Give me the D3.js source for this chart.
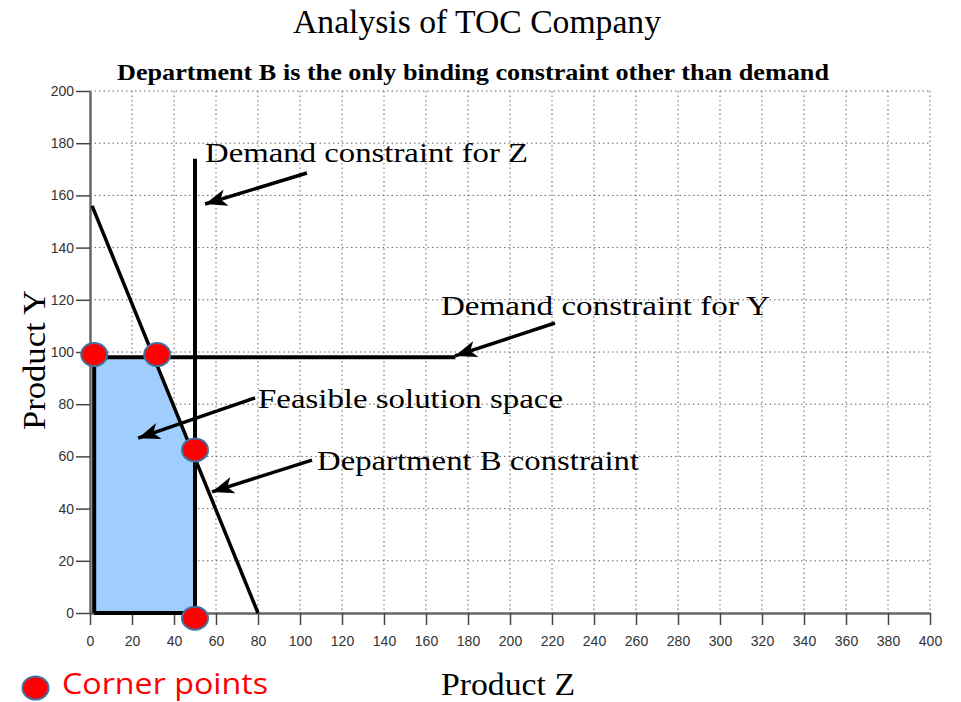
<!DOCTYPE html>
<html lang="en">
<head>
  <meta charset="UTF-8">
  <title>Analysis of TOC Company</title>
  <script src="https://d3js.org/d3.v7.min.js"></script>
  <style>
    body {
      margin: 0;
      background-color: white;
    }
    .serif {
      font-family: "Liberation Serif", "Times New Roman", serif;
    }
    .tick text {
      font-family: "Liberation Sans", Arial, sans-serif;
      font-size: 14px;
      fill: #333;
    }
    .tick line {
      stroke: #444;
      stroke-width: 1.5;
    }
    .domain {
      stroke: #666;
      stroke-width: 2.5;
    }
    .grid line {
      stroke: #666;
      stroke-width: 1;
      stroke-dasharray: 1.5,3;
    }
  </style>
</head>
<body>
  <svg width="961" height="702"></svg>
  <script>
    // ticks
    const xTicks = d3.range(0, 401, 20);
    const yTicks = d3.range(0, 201, 20);

    // constraint lines, in chart units (Product Z, Product Y)
    const demandZ = [[50, 0], [50, 174]];
    const demandY = [[2, 98], [174, 98]];
    const deptB = [[1, 156], [80, 0]];
    const leftEdge = [[2, 0], [2, 98]];
    const bottomEdge = [[2, 0], [50, 0]];

    // feasible region vertices
    const feasible = [[2, 0], [2, 98], [30.4, 98], [50, 59.2], [50, 0]];

    // corner points as drawn
    const corners = [[2, 99], [32, 99], [50, 62.5], [50, -2]];

    // annotation labels: text position, arrow start, arrow tip
    const notes = [
      { text: "Demand constraint for Z", at: [54.8, 172.8], from: [103.3, 168.6], to: [54.8, 156.7], len: 323 },
      { text: "Demand constraint for Y", at: [167.1, 114.2], from: [221.4, 111.1], to: [173.8, 98.5], len: 329 },
      { text: "Feasible solution space", at: [80, 78.5], from: [78.6, 82.4], to: [22.9, 67], len: 305 },
      { text: "Department B constraint", at: [108.1, 54.8], from: [105.7, 58.6], to: [58.1, 46.4], len: 322 }
    ];

    const svg = d3.select("svg");
    const x = d3.scaleLinear().domain([0, 400]).range([90, 930]);
    const y = d3.scaleLinear().domain([0, 200]).range([613, 91]);

    const defs = svg.append("defs");
    defs.append("marker")
      .attr("id", "arrow")
      .attr("markerUnits", "userSpaceOnUse")
      .attr("viewBox", "0 -10 24 20")
      .attr("refX", 22).attr("refY", 0)
      .attr("markerWidth", 24).attr("markerHeight", 20)
      .attr("orient", "auto")
      .append("path")
      .attr("d", "M0,-8.5 L22,0 L0,8.5 L6,0 Z")
      .attr("fill", "black");

    // grid
    const grid = svg.append("g").attr("class", "grid");
    grid.selectAll(".vg").data(xTicks.slice(1)).enter().append("line")
      .attr("x1", d => x(d)).attr("x2", d => x(d))
      .attr("y1", y(200)).attr("y2", y(0));
    grid.selectAll(".hg").data(yTicks.slice(1)).enter().append("line")
      .attr("x1", x(0)).attr("x2", x(400))
      .attr("y1", d => y(d)).attr("y2", d => y(d));

    // feasible area
    svg.append("path")
      .datum(feasible)
      .attr("d", d3.line().x(d => x(d[0])).y(d => y(d[1])).curve(d3.curveLinearClosed))
      .attr("fill", "#9fcdfc");

    // axes
    svg.append("g")
      .attr("transform", `translate(0,${y(0)})`)
      .call(d3.axisBottom(x).tickValues(xTicks).tickSize(12).tickSizeOuter(0).tickPadding(11));
    svg.append("g")
      .attr("transform", `translate(${x(0)},0)`)
      .call(d3.axisLeft(y).tickValues(yTicks).tickSize(14).tickSizeOuter(0).tickPadding(2));

    // constraint lines
    const line = d3.line().x(d => x(d[0])).y(d => y(d[1]));
    [
      [leftEdge, 4], [bottomEdge, 4], [demandY, 4], [demandZ, 4], [deptB, 3.5]
    ].forEach(([pts, w]) => {
      svg.append("path").datum(pts).attr("d", line)
        .attr("fill", "none").attr("stroke", "black").attr("stroke-width", w);
    });

    // arrows and labels
    svg.selectAll(".arrow").data(notes).enter().append("line")
      .attr("x1", d => x(d.from[0])).attr("y1", d => y(d.from[1]))
      .attr("x2", d => x(d.to[0])).attr("y2", d => y(d.to[1]))
      .attr("stroke", "black").attr("stroke-width", 3.5)
      .attr("marker-end", "url(#arrow)");
    svg.selectAll(".note").data(notes).enter().append("text")
      .attr("class", "serif")
      .attr("x", d => x(d.at[0])).attr("y", d => y(d.at[1]))
      .attr("font-size", 28)
      .attr("textLength", d => d.len)
      .attr("lengthAdjust", "spacingAndGlyphs")
      .text(d => d.text);

    // corner points
    svg.selectAll(".corner").data(corners).enter().append("ellipse")
      .attr("cx", d => x(d[0])).attr("cy", d => y(d[1]))
      .attr("rx", 13).attr("ry", 11.5)
      .attr("fill", "#ff0000").attr("stroke", "#41719c").attr("stroke-width", 2);

    // titles
    svg.append("text").attr("class", "serif")
      .attr("x", 293).attr("y", 33)
      .attr("font-size", 33)
      .attr("textLength", 368).attr("lengthAdjust", "spacingAndGlyphs")
      .text("Analysis of TOC Company");
    svg.append("text").attr("class", "serif")
      .attr("x", 117).attr("y", 80)
      .attr("font-size", 24).attr("font-weight", "bold")
      .attr("textLength", 712).attr("lengthAdjust", "spacingAndGlyphs")
      .text("Department B is the only binding constraint other than demand");

    // axis titles
    svg.append("text").attr("class", "serif")
      .attr("x", 441).attr("y", 695)
      .attr("font-size", 32)
      .attr("textLength", 134).attr("lengthAdjust", "spacingAndGlyphs")
      .text("Product Z");
    svg.append("text").attr("class", "serif")
      .attr("transform", "translate(45,430) rotate(-90)")
      .attr("font-size", 32)
      .attr("textLength", 140).attr("lengthAdjust", "spacingAndGlyphs")
      .text("Product Y");

    // legend
    svg.append("ellipse")
      .attr("cx", 35.5).attr("cy", 688).attr("rx", 13).attr("ry", 11.5)
      .attr("fill", "#ff0000").attr("stroke", "#41719c").attr("stroke-width", 2);
    svg.append("text")
      .attr("x", 62).attr("y", 694)
      .attr("font-family", "'Open Sans', 'Noto Sans', sans-serif")
      .attr("font-size", 29).attr("fill", "#ff0000")
      .attr("textLength", 206).attr("lengthAdjust", "spacingAndGlyphs")
      .text("Corner points");
  </script>
</body>
</html>
